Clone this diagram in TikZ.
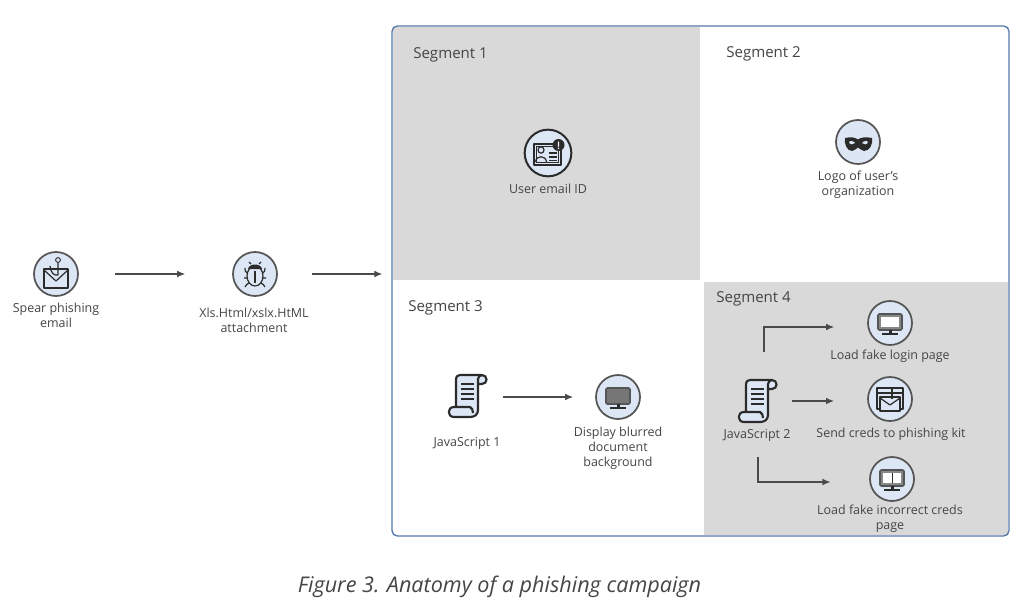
\documentclass[tikz,border=0pt]{standalone}
\usepackage{fontspec}
\setmainfont{Open Sans}
\usetikzlibrary{arrows.meta,calc}
\definecolor{seg}{HTML}{D9D9D9}
\definecolor{iconfill}{HTML}{DCE6F4}
\definecolor{ring}{HTML}{555555}
\definecolor{txt}{HTML}{454545}
\definecolor{dark}{HTML}{2B2B2B}
\definecolor{frame}{HTML}{5577AA}
\definecolor{arrowc}{HTML}{4A4A4A}
\newlength{\unitpx}\setlength{\unitpx}{0.75pt}
\tikzset{
  x=0.75pt,y=-0.75pt,
  iconring/.style={circle,draw=ring,line width=1.3pt,fill=iconfill,minimum size=33pt,inner sep=0pt},
  lab/.style={font=\fontsize{9.35pt}{11.3pt}\selectfont,text=txt,align=center,inner sep=0pt},
  seglab/.style={font=\fontsize{11.3pt}{13pt}\selectfont,text=txt,anchor=west,inner sep=0pt},
  arr/.style={draw=arrowc,line width=0.85pt,-{Latex[length=6pt,width=5pt]}},
  ic/.style={draw=dark,line width=0.9pt,line join=round},
  pics/scrollicon/.style={code={
    \draw[ic,line width=1.6pt,fill=iconfill] (-12,11) -- (-12,-16) .. controls (-12,-20) and (-10,-21) .. (-8,-21) -- (14,-21) .. controls (20,-21) and (20,-12) .. (14,-12) -- (10,-12) -- (10,14) .. controls (10,19) and (6,21) .. (2,21) -- (-14,21) .. controls (-21,21) and (-21,11) .. (-14,11) -- (2,11) .. controls (4,12) and (5,14) .. (5,17);
    \draw[ic,line width=1.6pt] (10,-12) -- (10,-17) .. controls (10,-19) and (12,-21) .. (14,-21);
    \foreach \yy in {-12,-7,-2,3} \draw[ic,line width=1.2pt] (-7,\yy) -- (6,\yy);
  }},
  pics/monitoricon/.style={code={
    \draw[ic,fill=#1,line width=1.2pt,rounded corners=1pt,draw=ring] (-12,-9) rectangle (12,7);
    \fill[dark] (-1.5,7) rectangle (1.5,11);
    \fill[dark] (-8,10) rectangle (8,12);
  }},
}
\begin{document}
\begin{tikzpicture}
\useasboundingbox (0,0) rectangle (1024,610);
\fill[white] (0,0) rectangle (1024,610);
% panel
\fill[seg] (393,27) rectangle (700,280);
\fill[seg] (704,282) rectangle (1008,535);
\node[draw=frame,line width=1pt,rounded corners=4pt,minimum width=462.75pt,minimum height=382.5pt,inner sep=0pt] (panel) at (700.5,281) {};
% segment labels
\node[seglab] (s1) at (413,55) {Segment 1};
\node[seglab] (s2) at (726,54) {Segment 2};
\node[seglab] (s3) at (408,308) {Segment 3};
\node[seglab] (s4) at (716,298.5) {Segment 4};
% left flow
\node[iconring] (email) at (56,274) {};
\draw[ic,fill=iconfill] (44,269) rectangle (68,288);
\draw[ic] (44,270) -- (56,281) -- (68,270);
\draw[ic] (58,263) -- (58,275) (58,275) .. controls (54,276) and (51,273) .. (50,266);
\draw[ic,line width=0.7pt] (58,260) circle[radius=2.4];
\node[lab] (emailt) at (56,315) {Spear phishing\\email};
\node[iconring] (bug) at (255,274) {};
\draw[ic,fill=iconfill] (255,276) ellipse[x radius=8,y radius=10];
\fill[dark] (248,269) .. controls (249,263) and (261,263) .. (262,269) -- cycle;
\draw[ic] (255,271) -- (255,283);
\draw[ic] (247,273) .. controls (245,272) and (245,270) .. (245,268) (247,278) -- (244,278) (249,283) .. controls (247,284) and (246,285) .. (245,287) (263,273) .. controls (265,272) and (265,270) .. (265,268) (263,278) -- (266,278) (261,283) .. controls (263,284) and (264,285) .. (265,287) (251,264) -- (249,262) (259,264) -- (261,262);
\node[lab] (bugt) at (254,320) {Xls.Html/xslx.HtML\\attachment};
\draw[arr,shorten <=36\unitpx,shorten >=47\unitpx] (email) -- (bug);
\draw[arr,shorten <=34\unitpx,shorten >=9\unitpx] (bug) -- (bug -| panel.west);
% segment 1
\node[iconring,minimum size=35pt,line width=1.5pt,draw=dark] (idc) at (548,153) {};
\draw[ic,fill=iconfill] (534,144) rectangle (561,165);
\draw[ic] (536.5,146.5) rectangle (558.5,162.5);
\draw[ic] (541,150) ellipse[x radius=3,y radius=3.2];
\draw[ic] (535.5,162) .. controls (536,155) and (546,155) .. (546.5,162);
\draw[ic] (549,153) -- (557,153) (549,157) -- (557,157) (549,160.5) -- (557,160.5);
\fill[dark] (558.5,145) circle[radius=6];
\fill[white] (557.8,141.5) rectangle (559.2,146.5) (557.8,147.5) rectangle (559.2,149);
\node[lab] (idt) at (548,189) {User email ID};
% segment 2
\node[iconring] (mask) at (858,142) {};
\fill[dark] (845,138) .. controls (851,136.5) and (855,137.5) .. (858,139.5) .. controls (861,137.5) and (865,136.5) .. (872,138) .. controls (873,144) and (870,151) .. (864,151) .. controls (861,151) and (860,148) .. (858,147.5) .. controls (856,148) and (855,151) .. (852,151) .. controls (847,151) and (844,144) .. (845,138) -- cycle;
\fill[iconfill] (849,142) .. controls (850,140.5) and (854,141) .. (855,143) .. controls (853,145) and (850,145) .. (849,142) -- cycle;
\fill[iconfill] (868,142) .. controls (867,140.5) and (863,141) .. (862,143) .. controls (864,145) and (867,145) .. (868,142) -- cycle;
\node[lab] (maskt) at (858,185) {Logo of user's\\organization};
% segment 3
\node[minimum width=27pt,minimum height=32pt,inner sep=0pt] (js1) at (468,396) {};
\pic at (js1.center) {scrollicon};
\node[lab] (js1t) at (467,443) {JavaScript 1};
\node[iconring] (disp) at (618,397) {};
\pic at (disp.center) {monitoricon={ring!80}};
\node[lab] (dispt) at (618,448) {Display blurred\\document\\background};
\draw[arr,shorten <=35\unitpx,shorten >=22\unitpx] (js1 |- disp) -- (disp);
% segment 4
\node[minimum width=27pt,minimum height=32pt,inner sep=0pt] (js2) at (758,401) {};
\pic at (js2.center) {scrollicon};
\node[lab] (js2t) at (757,435) {JavaScript 2};
\node[iconring] (login) at (890,323) {};
\pic at (login.center) {monitoricon={ring!70}};
\fill[white] (881,317) rectangle (899,327);
\node[lab] (logint) at (890,356) {Load fake login page};
\node[iconring] (kit) at (890,399) {};
\draw[ic,fill=iconfill] (877,388) rectangle (903,409);
\draw[ic] (877,393) -- (903,393);
\draw[ic,fill=iconfill] (880,397) rectangle (900,411);
\draw[ic] (880,398) -- (890,405) -- (900,398);
\draw[ic] (892,388) -- (892,399);
\node[lab] (kitt) at (891,434) {Send creds to phishing kit};
\node[iconring] (bad) at (892,479) {};
\pic at (bad.center) {monitoricon={ring!70}};
\fill[white] (883,473) rectangle (901,483);
\draw[ic,line width=0.6pt] (892,473) -- (892,483);
\node[lab] (badt) at (890,519) {Load fake incorrect creds\\page};
\draw[arr,shorten <=27\unitpx] ([xshift=4.5pt]js2.north) |- ([xshift=-24.75pt,yshift=-3pt]login.west);
\draw[arr,shorten <=16\unitpx,shorten >=56\unitpx] (js2) -- (js2 -| kit);
\draw[arr,shorten <=56\unitpx] (js2.center) |- ([xshift=-29pt,yshift=-2.25pt]bad.west);
% caption
\node[font=\fontsize{16.2pt}{19pt}\selectfont\itshape,text=txt,inner sep=0pt] (cap) at (499.5,586.5) {Figure 3. Anatomy of a phishing campaign};
\end{tikzpicture}
\end{document}
